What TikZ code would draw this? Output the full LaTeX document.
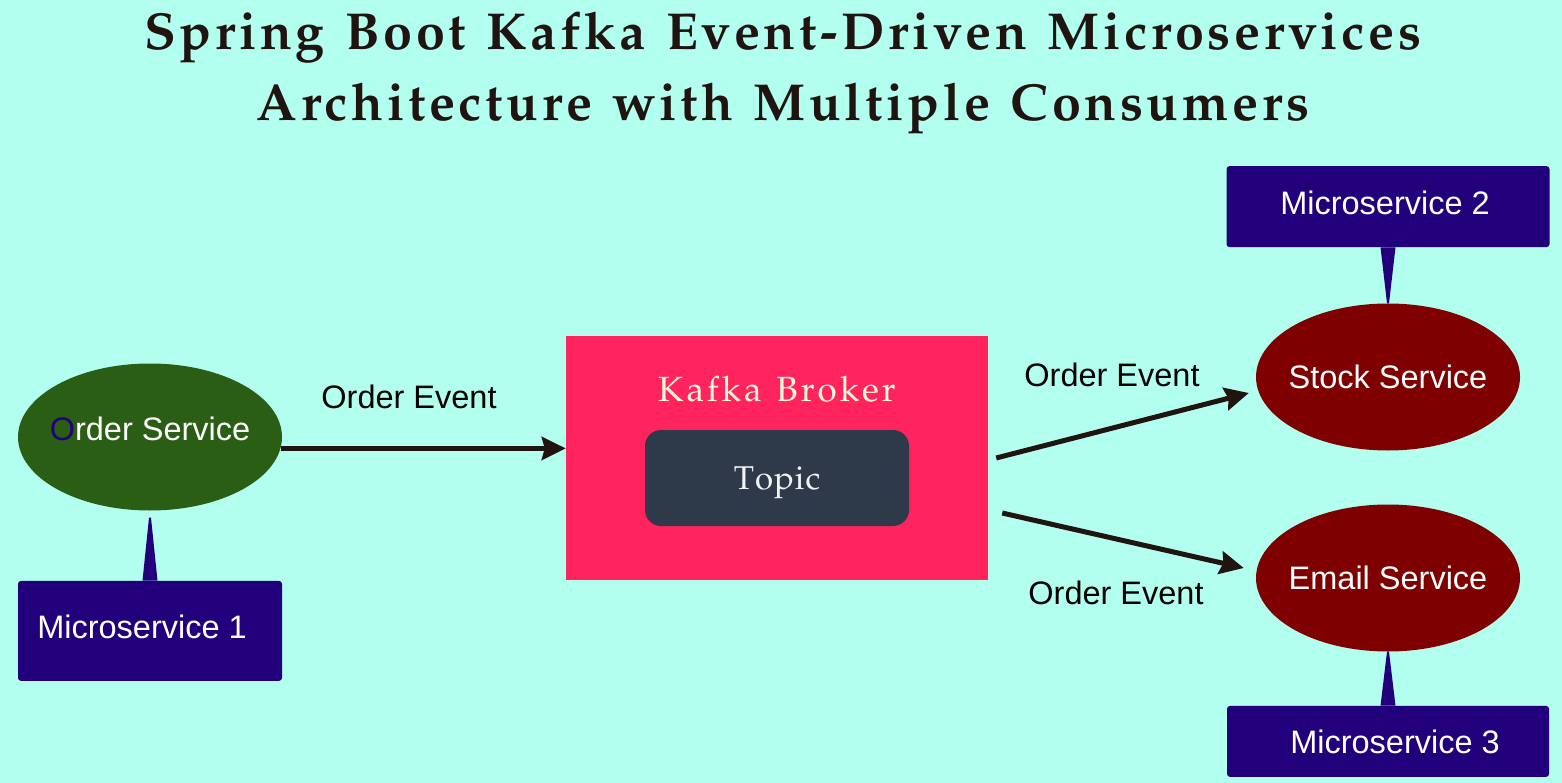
\documentclass[tikz,border=0pt]{standalone}
\usepackage[T1]{fontenc}
\usepackage{fontspec}
\setmainfont{Liberation Sans}
\usetikzlibrary{shapes.geometric, arrows.meta, positioning, calc}
\definecolor{bgaqua}{HTML}{B3FFEF}
\definecolor{ordergreen}{HTML}{2B5E15}
\definecolor{msblue}{HTML}{22007B}
\definecolor{brokerred}{HTML}{FF245E}
\definecolor{topicgray}{HTML}{2E394A}
\definecolor{servicered}{HTML}{7E0000}
\definecolor{arrowdark}{HTML}{201410}
\definecolor{cream}{HTML}{FFF9D6}
\newcommand\palfont{\fontencoding{T1}\fontfamily{ppl}\selectfont}
% letter spaced text, ~ stands for a space
\makeatletter
\newdimen\lskern
\newcommand\spaced[2][3.7pt]{\lskern=#1\relax\kern.5\lskern\ls@loop#2\@nil}
\def\ls@loop#1{\ifx#1\@nil\kern-.5\lskern\else#1\kern\lskern\expandafter\ls@loop\fi}
\makeatother

\begin{document}
\begin{tikzpicture}[x=1pt, y=-1pt,
    service/.style={ellipse, minimum width=264pt, minimum height=147pt, inner xsep=-20pt, inner ysep=0pt,
        text=white, font=\fontsize{32.5}{39}\selectfont},
    msbox/.style={rectangle, rounded corners=3pt, fill=msblue, text=white, inner sep=0pt,
        font=\fontsize{32.5}{39}\selectfont},
    flow/.style={line width=5pt, draw=arrowdark, -{Stealth[length=24pt, width=23pt, inset=3pt]}},
    evlabel/.style={text=black, font=\fontsize{32.5}{39}\selectfont},
    node distance=70pt]
    \fill[bgaqua] (0,0) rectangle (1562,783);
    \useasboundingbox (0,0) rectangle (1562,783);

    \node[anchor=north, align=center, text=arrowdark,
        font=\palfont\bfseries\fontsize{52}{71}\selectfont] (ttl) at (783,8)
        {\spaced{Spring~Boot~Kafka~Event-Driven~Microservices}\\
         \spaced{Architecture~with~Multiple~Consumers}};

    % producer side
    \node[service, fill=ordergreen, text depth=16pt] (os) at (150,437) {{\color{msblue}O}rder Service};
    \node[msbox, minimum width=264pt, minimum height=100pt, text depth=8pt, below=of os] (m1) {Microservice 1\kern16pt};
    \fill[msblue] ([xshift=-7.5pt]m1.north) -- ([xshift=-1pt, yshift=-7pt]os.south)
        -- ([xshift=1pt, yshift=-7pt]os.south) -- ([xshift=7.5pt]m1.north) -- cycle;

    % broker
    \node[rectangle, fill=brokerred, minimum width=422pt, minimum height=244pt] (kb) at (777,458) {};
    \node[text=cream, font=\palfont\fontsize{35}{42}\selectfont] (kbl) at (777,389) {\spaced[3pt]{Kafka~Broker}};
    \node[rectangle, rounded corners=16pt, fill=topicgray, minimum width=264pt, minimum height=96pt,
        text=white!90!gray, text depth=0pt, font=\palfont\fontsize{33}{40}\selectfont] (tp) at (777,478) {\spaced[1pt]{Topic}};

    % consumers
    \node[service, fill=servicered] (ss) at (1388,377) {Stock Service};
    \node[service, fill=servicered] (es) at (1388,578) {Email Service};
    \node[msbox, minimum width=323pt, minimum height=81pt, text depth=8pt, above=56pt of ss] (m2) {Microservice 2\kern6pt};
    \node[msbox, minimum width=322pt, minimum height=71pt, below=54pt of es] (m3) {\hspace{14pt}Microservice 3};
    \fill[msblue] ([xshift=-7.5pt]m2.south) -- ([xshift=-1pt]ss.north)
        -- ([xshift=1pt]ss.north) -- ([xshift=7.5pt]m2.south) -- cycle;
    \fill[msblue] ([xshift=-7.5pt]m3.north) -- ([xshift=-1pt]es.south)
        -- ([xshift=1pt]es.south) -- ([xshift=7.5pt]m3.north) -- cycle;

    % events
    \draw[flow] (os.-5) -- (kb.west |- os.-5);
    \draw[flow] ($(kb.east)+(8,0)$) -- ($(ss.west)+(-7,16)$);
    \draw[flow] ($(kb.east)+(14,55)$) -- ($(es.west)+(-12,-10)$);
    \node[evlabel] (oe1) at (409,397) {Order Event};
    \node[evlabel] (oe2) at (1112,375) {Order Event};
    \node[evlabel] (oe3) at (1116,593) {Order Event};
\end{tikzpicture}
\end{document}
